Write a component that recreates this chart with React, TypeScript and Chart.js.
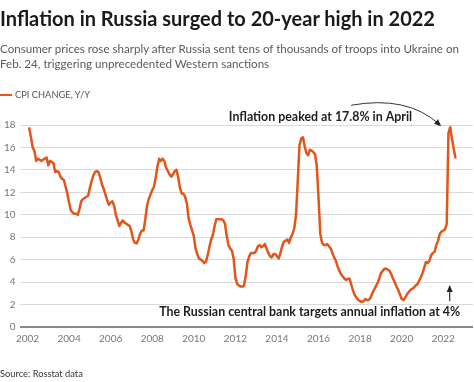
import React, { useEffect, useRef } from "react";
import { Chart, registerables } from "chart.js";

Chart.register(...registerables);

// Monthly CPI change, year on year (%), Rosstat, from January 2002
const START_YEAR = 2002;
const cpi2002 = [17.7, 16.9, 16.0, 15.7, 14.8, 15.0, 14.9, 14.8, 14.9, 15.0, 15.1, 14.4];
const cpi2003 = [14.8, 14.7, 14.6, 13.8, 13.9, 13.8, 13.4, 13.2, 13.1, 12.5, 11.9, 11.1];
const cpi2004 = [10.4, 10.2, 10.1, 10.1, 10.0, 10.5, 11.2, 11.4, 11.5, 11.6, 11.7, 12.4];
const cpi2005 = [13.0, 13.5, 13.8, 13.9, 13.8, 13.3, 12.7, 12.3, 11.8, 11.3, 10.9, 11.1];
const cpi2006 = [11.2, 10.8, 10.0, 9.5, 9.0, 9.3, 9.5, 9.3, 9.2, 9.1, 9.0, 8.5];
const cpi2007 = [7.8, 7.5, 7.45, 7.8, 8.3, 8.6, 8.6, 9.6, 10.8, 11.4, 11.8, 12.2];
const cpi2008 = [12.5, 13.3, 14.3, 15.0, 14.8, 15.0, 14.8, 14.2, 13.9, 13.6, 13.4, 13.6];
const cpi2009 = [13.9, 14.0, 13.3, 12.4, 11.9, 11.9, 11.6, 11.0, 9.7, 9.1, 8.6, 8.1];
const cpi2010 = [7.0, 6.5, 6.1, 6.0, 5.9, 5.7, 5.8, 6.4, 7.1, 7.8, 8.2, 9.0];
const cpi2011 = [9.6, 9.6, 9.6, 9.6, 9.5, 9.2, 8.1, 7.3, 7.0, 6.8, 6.1, 4.4];
const cpi2012 = [3.85, 3.7, 3.6, 3.6, 3.7, 4.6, 5.8, 6.3, 6.6, 6.6, 6.6, 6.8];
const cpi2013 = [7.2, 7.3, 7.1, 7.2, 7.4, 7.0, 6.6, 6.3, 6.2, 6.5, 6.5, 6.3];
const cpi2014 = [6.1, 6.6, 7.2, 7.6, 7.7, 7.8, 7.5, 8.0, 8.3, 8.8, 10.0, 13.0];
const cpi2015 = [16.2, 16.8, 16.9, 16.1, 15.5, 15.3, 15.8, 15.7, 15.6, 15.4, 14.3, 11.5];
const cpi2016 = [8.3, 7.5, 7.3, 7.3, 7.4, 7.2, 7.0, 6.6, 6.2, 5.9, 5.4, 5.0];
const cpi2017 = [4.7, 4.5, 4.3, 4.2, 4.3, 4.3, 3.7, 3.2, 2.8, 2.6, 2.4, 2.3];
const cpi2018 = [2.25, 2.3, 2.5, 2.4, 2.4, 2.6, 3.0, 3.3, 3.6, 3.9, 4.3, 4.8];
const cpi2019 = [5.0, 5.2, 5.2, 5.1, 5.0, 4.7, 4.3, 4.0, 3.6, 3.3, 2.9, 2.5];
const cpi2020 = [2.4, 2.6, 2.9, 3.1, 3.3, 3.4, 3.5, 3.7, 3.8, 4.1, 4.4, 4.8];
const cpi2021 = [5.3, 5.8, 5.7, 5.9, 6.4, 6.6, 6.7, 7.3, 7.7, 8.3, 8.5, 8.6];
const cpi2022 = [8.7, 9.2, 17.3, 17.8, 16.8, 15.9, 15.1];

const cpiByYear = [
  cpi2002, cpi2003, cpi2004, cpi2005, cpi2006, cpi2007, cpi2008, cpi2009, cpi2010, cpi2011, cpi2012,
  cpi2013, cpi2014, cpi2015, cpi2016, cpi2017, cpi2018, cpi2019, cpi2020, cpi2021, cpi2022,
];

const yearTicks = [2002, 2004, 2006, 2008, 2010, 2012, 2014, 2016, 2018, 2020, 2022];
const valueTicks = [0, 2, 4, 6, 8, 10, 12, 14, 16, 18];

const TITLE = "Inflation in Russia surged to 20-year high in 2022";
const SUBTITLE_1 = "Consumer prices rose sharply after Russia sent tens of thousands of troops into Ukraine on";
const SUBTITLE_2 = "Feb. 24, triggering unprecedented Western sanctions";
const LEGEND = "CPI CHANGE, Y/Y";
const SOURCE = "Source: Rosstat data";
const PEAK_LABEL = "Inflation peaked at 17.8% in April";
const PEAK_YEAR = 2022;
const PEAK_MONTH = 4;
const PEAK_VALUE = 17.8;
const TARGET_LABEL = "The Russian central bank targets annual inflation at 4%";

const ORANGE = "#e2561b";
const FONT = "Lato, 'Noto Sans', sans-serif";

const monthToX = (year: number, month: number) => year + month / 12; // end of month

const points: { x: number; y: number }[] = [];
cpiByYear.forEach((vals, yi) => {
  vals.forEach((v, mi) => points.push({ x: monthToX(START_YEAR + yi, mi + 1), y: v }));
});

function arrowHead(ctx: CanvasRenderingContext2D, x: number, y: number, ang: number, len: number, half: number) {
  ctx.beginPath();
  ctx.moveTo(x, y);
  ctx.lineTo(x - len * Math.cos(ang) + half * Math.sin(ang), y - len * Math.sin(ang) - half * Math.cos(ang));
  ctx.lineTo(x - len * Math.cos(ang) - half * Math.sin(ang), y - len * Math.sin(ang) + half * Math.cos(ang));
  ctx.closePath();
  ctx.fill();
}

const annotationPlugin = {
  id: "cpiAnnotations",
  afterDatasetsDraw(chart: any) {
    const { ctx, scales } = chart;
    const xs = scales.x;
    const ys = scales.y;
    const px = xs.getPixelForValue(monthToX(PEAK_YEAR, PEAK_MONTH));
    const py = ys.getPixelForValue(PEAK_VALUE);
    const base = ys.getPixelForValue(0);
    ctx.save();
    ctx.font = `bold 12.4px ${FONT}`;
    ctx.fillStyle = "#1e1e1e";
    ctx.textAlign = "right";
    ctx.textBaseline = "alphabetic";
    ctx.fillText(PEAK_LABEL, px - 38, py - 6);
    ctx.fillText(TARGET_LABEL, px + 10, base - 11);

    ctx.strokeStyle = "#333";
    ctx.fillStyle = "#222";
    ctx.lineWidth = 1;
    const sx = px - 99, sy = py - 22, cx = px - 43, cy = py - 32, ex = px - 9, ey = py - 1;
    ctx.beginPath();
    ctx.moveTo(sx, sy);
    ctx.quadraticCurveTo(cx, cy, ex - 2, ey - 2);
    ctx.stroke();
    arrowHead(ctx, ex, ey, Math.atan2(ey - cy, ex - cx), 7, 3);

    const ax = px - 0.5;
    ctx.lineWidth = 1.2;
    ctx.beginPath();
    ctx.moveTo(ax, base - 26);
    ctx.lineTo(ax, base - 37);
    ctx.stroke();
    arrowHead(ctx, ax, base - 42, -Math.PI / 2, 7, 3);
    ctx.restore();
  },
};

export default function App() {
  const canvasRef = useRef<HTMLCanvasElement | null>(null);

  useEffect(() => {
    document.body.style.margin = "0";
    const canvas = canvasRef.current;
    if (!canvas) return;
    const chart = new Chart(canvas, {
      type: "line",
      data: {
        datasets: [
          {
            label: LEGEND,
            data: points,
            borderColor: ORANGE,
            backgroundColor: ORANGE,
            borderWidth: 2.5,
            pointRadius: 0,
            tension: 0,
            borderJoinStyle: "round",
            borderCapStyle: "round",
          },
        ],
      },
      options: {
        animation: false,
        responsive: false,
        devicePixelRatio: 1,
        layout: { padding: { top: 125, left: 0, right: 1, bottom: 31 } },
        plugins: { legend: { display: false }, tooltip: { enabled: false }, title: { display: false } },
        scales: {
          x: {
            type: "linear",
            min: 2001.62,
            max: 2023.43,
            afterBuildTicks: (s: any) => {
              s.ticks = yearTicks.map((v) => ({ value: v }));
            },
            grid: { display: false, drawTicks: false },
            border: { display: false },
            ticks: {
              padding: 6,
              color: "#777",
              font: { family: FONT, size: 10 },
              callback: (v: any) => String(v),
              maxRotation: 0,
              autoSkip: false,
            },
          },
          y: {
            type: "linear",
            min: 0,
            max: 18,
            afterBuildTicks: (s: any) => {
              s.ticks = valueTicks.map((v) => ({ value: v }));
            },
            grid: {
              drawTicks: false,
              color: (c: any) => (c.tick && c.tick.value === 0 ? "#8a8a8a" : "#d9d9d9"),
              lineWidth: (c: any) => (c.tick && c.tick.value === 0 ? 2 : 1),
            },
            border: { display: false },
            ticks: {
              padding: 4,
              color: "#777",
              font: { family: FONT, size: 10 },
              callback: (v: any) => String(v),
            },
          },
        },
      },
      plugins: [annotationPlugin],
    } as any);
    return () => chart.destroy();
  }, []);

  const abs = (o: React.CSSProperties): React.CSSProperties => ({ position: "absolute", whiteSpace: "nowrap", ...o });

  return (
    <div style={{ position: "relative", width: 474, height: 382, fontFamily: FONT, overflow: "hidden", background: "#fff" }}>
      <canvas ref={canvasRef} width={474} height={382} style={{ position: "absolute", left: 0, top: 0, width: 474, height: 382 }} />
      <div style={abs({ left: 0, top: 8, fontSize: 20, lineHeight: "20px", fontWeight: 700, color: "#1a1a1a" })}>{TITLE}</div>
      <div style={abs({ left: 0, top: 41, fontSize: 11.6, lineHeight: "15px", color: "#5a5a5a" })}>
        {SUBTITLE_1}
        <br />
        {SUBTITLE_2}
      </div>
      <div style={abs({ left: 0, top: 94, width: 12, height: 2, background: ORANGE })} />
      <div style={abs({ left: 15, top: 89, fontSize: 9.3, lineHeight: "12px", color: "#555" })}>{LEGEND}</div>
      <div style={abs({ left: 0, top: 368, fontSize: 9.3, lineHeight: "12px", color: "#333" })}>{SOURCE}</div>
    </div>
  );
}
